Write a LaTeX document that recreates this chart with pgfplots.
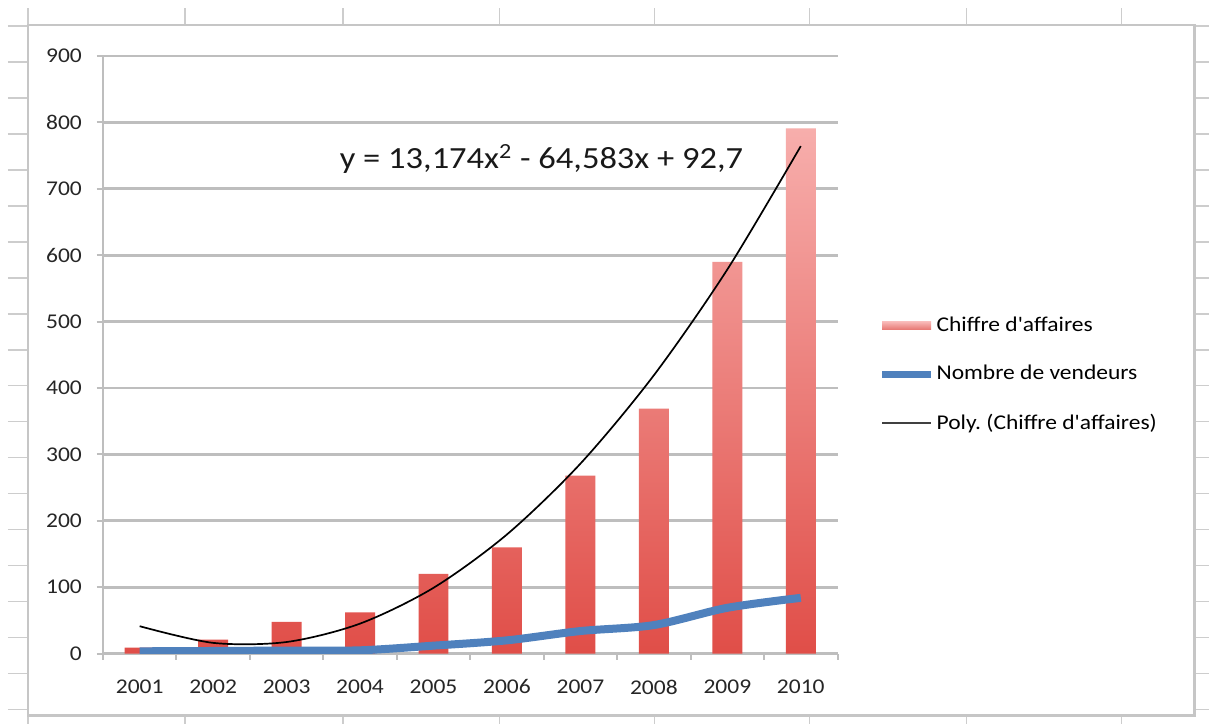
\documentclass[border=0pt]{standalone}
\usepackage{pgfplots}
\pgfplotsset{compat=1.18}
\usepackage{fontspec}
\setmainfont[FakeStretch=1.12,Ligatures=TeXOff]{Carlito}
\frenchspacing
\definecolor{barTop}{RGB}{247,174,172}
\definecolor{barBot}{RGB}{224,78,72}
\definecolor{lineBlue}{RGB}{79,129,189}
\definecolor{gridG}{RGB}{190,190,190}
\definecolor{sheet}{RGB}{205,205,205}
\begin{document}
\begin{tikzpicture}
\begin{scope}[x=0.5pt,y=0.5pt]
\path (0,0) rectangle (1210,724);
\foreach \x in {28,185,343,500,655,810,967,1122} \draw[sheet,line width=0.7pt] (\x,0) -- (\x,716);
\foreach \y in {14,50,...,698} \draw[sheet,line width=0.7pt] (8,\y) -- (1210,\y);
\filldraw[fill=white,draw=gray!45,line width=1.3pt] (28,8) rectangle (1195,699);
\end{scope}
\begin{axis}[
  at={(51.5pt,35pt)}, anchor=south west, scale only axis,
  width=367.5pt, height=299pt,
  xmin=0.5, xmax=10.5, ymin=0, ymax=900,
  axis x line*=bottom, axis y line*=left,
  axis line style={gridG,line width=1.1pt},
  ytick={0,100,...,900},
  xtick={1,...,10},
  xticklabels={2001,2002,2003,2004,2005,2006,2007,2008,2009,2010},
  minor xtick={0.5,1.5,...,10.5},
  major x tick style={draw=none},
  minor x tick style={gridG,line width=1pt},
  minor tick length=3pt,
  major tick length=3pt,
  tick align=outside,
  y tick style={gridG,line width=1pt},
  ymajorgrids, grid style={gridG,line width=1.4pt},
  tick label style={font=\fontsize{10.5}{12}\selectfont, text=black!85},
  /pgf/number format/assume math mode=true,
  yticklabel style={xshift=-4pt},
  xticklabel style={yshift=-6.5pt},
  legend style={at={(1.047,0.467)}, anchor=west, draw=none, fill=none,
    font=\fontsize{10.5}{12}\selectfont, row sep=11.5pt,
    nodes={inner xsep=1pt},
    /tikz/every even column/.append style={column sep=0pt}},
  legend cell align=left,
]
\addplot[ybar, bar width=15pt, draw=none, top color=barTop, bottom color=barBot,
  legend image code/.code={\fill[top color=barTop!90!white,bottom color=barBot!75!white] (0pt,-1.8pt) rectangle (24.5pt,1.8pt);}]
  coordinates {(1,9) (2,21) (3,48) (4,62) (5,120) (6,160) (7,268) (8,369) (9,590) (10,791)};
\addlegendentry{Chiffre d'affaires}
\addplot[lineBlue, line width=4pt, smooth,
  legend image code/.code={\draw[lineBlue,line width=3.6pt] (0pt,0pt) -- (24.5pt,0pt);}]
  coordinates {(1,3.5) (2,4) (3,4.6) (4,5) (5,12) (6,20) (7,34) (8,43) (9,69) (10,84)};
\addlegendentry{Nombre de vendeurs}
\addplot[black, line width=0.85pt, smooth,
  legend image code/.code={\draw[black!75,line width=1pt] (0pt,0pt) -- (24.5pt,0pt);}]
  coordinates {(1,41.3) (2,16.2) (3,17.5) (4,45.2) (5,99.1) (6,179.5) (7,286.1) (8,419.2) (9,578.5) (10,764.3)};
\addlegendentry{Poly. (Chiffre d'affaires)}
\node[font=\fontsize{15.4}{17}\selectfont, text=black!90] at (axis cs:6.47,745) {y = 13,174x\textsuperscript{2} - 64,583x + 92,7};
\end{axis}
\end{tikzpicture}
\end{document}
